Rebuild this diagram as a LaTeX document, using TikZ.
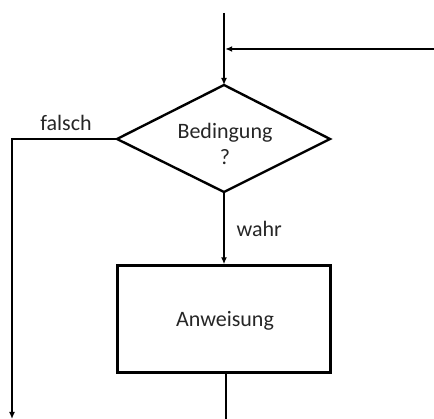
\documentclass[tikz,border=0pt]{standalone}
\usepackage{fontspec}
\setmainfont{Carlito}
\usetikzlibrary{arrows.meta,shapes.geometric}
\begin{document}
\begin{tikzpicture}[x=1pt,y=-1pt,
  line/.style={line width=2.4pt},
  arr/.style={line,-{Latex[length=7pt,width=6pt]}},
  lbl/.style={font=\fontsize{22}{26}\selectfont, text=black!85},
]
\useasboundingbox (0,0) rectangle (434,419);
% diamond
\coordinate (dt) at (224,85);
\coordinate (dl) at (117,139);
\coordinate (dr) at (330,139);
\coordinate (db) at (224,192);
\draw[line, line join=miter] (dt) -- (dr) -- (db) -- (dl) -- cycle;
\node[lbl, align=center] (cond) at (225,144) {Bedingung\\?};
% box
\node[line, draw, minimum width=213pt, minimum height=107pt, inner sep=0pt] (box) at (224,319) {};
\node[lbl] (anw) at (225,321) {Anweisung};
% top
\coordinate (top) at (224,13);
\coordinate (join) at (224,49);
\coordinate (right) at (434,49);
\draw[arr] (top) -- (dt);
\draw[arr] (right) -- ([xshift=1.2pt]join);
% true branch
\draw[arr] (db) -- (box.north);
\node[lbl, anchor=west] (wahr) at (233,229) {wahr};
% bottom out
\coordinate (bout) at (226,419);
\draw[line] (box.south -| bout) -- (bout);
% false branch
\coordinate (fl) at (12,139);
\coordinate (fbot) at (12,419);
\draw[arr] (dl) -- (fl) -- (fbot);
\node[lbl] (falsch) at (66,123) {falsch};
\end{tikzpicture}
\end{document}
